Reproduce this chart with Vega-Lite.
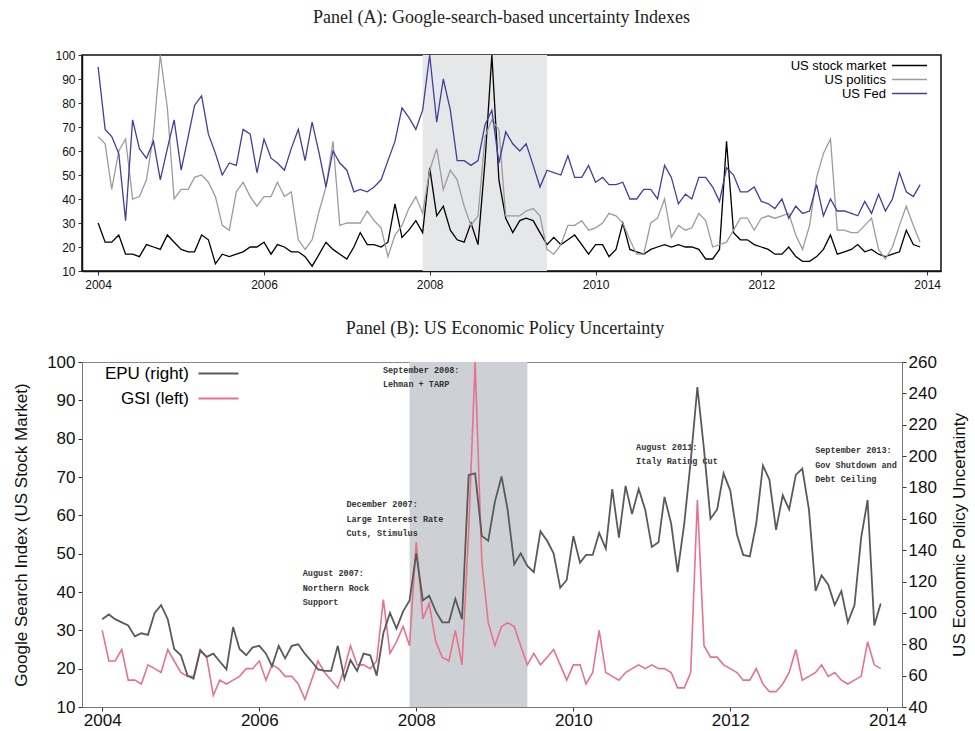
{
  "$schema": "https://vega.github.io/schema/vega-lite/v6.json",
  "background": "white",
  "padding": {"left": 12, "top": 8, "right": 3, "bottom": 3},
  "spacing": 28,
  "resolve": {"scale": {"color": "independent"}, "legend": {"color": "independent"}},
  "config": {
    "font": "Liberation Sans",
    "axis": {"grid": false, "labelColor": "#111", "titleColor": "#111", "domainColor": "#333", "tickColor": "#333", "titleFontWeight": "normal", "labelOverlap": false},
    "title": {"font": "Liberation Serif", "fontWeight": "normal", "color": "#222"}
  },
  "datasets": {
    "d": [
      {"date":"2004-01-01","stock":30,"politics":66,"fed":95,"epu":96},
      {"date":"2004-02-01","stock":22,"politics":63,"fed":69,"epu":99},
      {"date":"2004-03-01","stock":22,"politics":44,"fed":66,"epu":96},
      {"date":"2004-04-01","stock":25,"politics":60,"fed":59,"epu":94},
      {"date":"2004-05-01","stock":17,"politics":65,"fed":31,"epu":92},
      {"date":"2004-06-01","stock":17,"politics":40,"fed":73,"epu":85},
      {"date":"2004-07-01","stock":16,"politics":41,"fed":61,"epu":87},
      {"date":"2004-08-01","stock":21,"politics":48,"fed":57,"epu":86},
      {"date":"2004-09-01","stock":20,"politics":67,"fed":64,"epu":100},
      {"date":"2004-10-01","stock":19,"politics":100,"fed":48,"epu":105},
      {"date":"2004-11-01","stock":25,"politics":78,"fed":61,"epu":96},
      {"date":"2004-12-01","stock":22,"politics":40,"fed":73,"epu":77},
      {"date":"2005-01-01","stock":19,"politics":44,"fed":52,"epu":73},
      {"date":"2005-02-01","stock":18,"politics":44,"fed":66,"epu":60},
      {"date":"2005-03-01","stock":18,"politics":49,"fed":79,"epu":58},
      {"date":"2005-04-01","stock":25,"politics":50,"fed":83,"epu":76},
      {"date":"2005-05-01","stock":23,"politics":47,"fed":67,"epu":72},
      {"date":"2005-06-01","stock":13,"politics":41,"fed":59,"epu":74},
      {"date":"2005-07-01","stock":17,"politics":29,"fed":50,"epu":69},
      {"date":"2005-08-01","stock":16,"politics":27,"fed":55,"epu":64},
      {"date":"2005-09-01","stock":17,"politics":43,"fed":54,"epu":91},
      {"date":"2005-10-01","stock":18,"politics":47,"fed":69,"epu":77},
      {"date":"2005-11-01","stock":20,"politics":41,"fed":67,"epu":73},
      {"date":"2005-12-01","stock":20,"politics":37,"fed":51,"epu":78},
      {"date":"2006-01-01","stock":22,"politics":41,"fed":65,"epu":79},
      {"date":"2006-02-01","stock":17,"politics":41,"fed":57,"epu":74},
      {"date":"2006-03-01","stock":21,"politics":47,"fed":55,"epu":66},
      {"date":"2006-04-01","stock":20,"politics":41,"fed":52,"epu":79},
      {"date":"2006-05-01","stock":18,"politics":43,"fed":61,"epu":71},
      {"date":"2006-06-01","stock":18,"politics":23,"fed":69,"epu":79},
      {"date":"2006-07-01","stock":16,"politics":19,"fed":56,"epu":80},
      {"date":"2006-08-01","stock":12,"politics":23,"fed":72,"epu":74},
      {"date":"2006-09-01","stock":17,"politics":35,"fed":59,"epu":69},
      {"date":"2006-10-01","stock":22,"politics":45,"fed":45,"epu":64},
      {"date":"2006-11-01","stock":19,"politics":64,"fed":60,"epu":63},
      {"date":"2006-12-01","stock":17,"politics":29,"fed":55,"epu":63},
      {"date":"2007-01-01","stock":15,"politics":30,"fed":52,"epu":79},
      {"date":"2007-02-01","stock":20,"politics":30,"fed":43,"epu":58},
      {"date":"2007-03-01","stock":26,"politics":30,"fed":44,"epu":70},
      {"date":"2007-04-01","stock":21,"politics":35,"fed":43,"epu":63},
      {"date":"2007-05-01","stock":21,"politics":31,"fed":45,"epu":74},
      {"date":"2007-06-01","stock":20,"politics":28,"fed":48,"epu":73},
      {"date":"2007-07-01","stock":22,"politics":16,"fed":56,"epu":60},
      {"date":"2007-08-01","stock":38,"politics":25,"fed":64,"epu":87},
      {"date":"2007-09-01","stock":24,"politics":29,"fed":78,"epu":100},
      {"date":"2007-10-01","stock":27,"politics":36,"fed":74,"epu":90},
      {"date":"2007-11-01","stock":31,"politics":41,"fed":69,"epu":101},
      {"date":"2007-12-01","stock":26,"politics":34,"fed":77,"epu":108},
      {"date":"2008-01-01","stock":53,"politics":52,"fed":100,"epu":138},
      {"date":"2008-02-01","stock":33,"politics":61,"fed":72,"epu":108},
      {"date":"2008-03-01","stock":37,"politics":44,"fed":90,"epu":111},
      {"date":"2008-04-01","stock":27,"politics":52,"fed":77,"epu":101},
      {"date":"2008-05-01","stock":23,"politics":48,"fed":56,"epu":94},
      {"date":"2008-06-01","stock":22,"politics":37,"fed":56,"epu":94},
      {"date":"2008-07-01","stock":30,"politics":29,"fed":54,"epu":109},
      {"date":"2008-08-01","stock":21,"politics":33,"fed":56,"epu":96},
      {"date":"2008-09-01","stock":56,"politics":66,"fed":71,"epu":188},
      {"date":"2008-10-01","stock":100,"politics":73,"fed":77,"epu":189},
      {"date":"2008-11-01","stock":48,"politics":69,"fed":55,"epu":149},
      {"date":"2008-12-01","stock":32,"politics":33,"fed":68,"epu":146},
      {"date":"2009-01-01","stock":26,"politics":33,"fed":63,"epu":171},
      {"date":"2009-02-01","stock":31,"politics":33,"fed":60,"epu":187},
      {"date":"2009-03-01","stock":32,"politics":35,"fed":63,"epu":166},
      {"date":"2009-04-01","stock":31,"politics":36,"fed":54,"epu":131},
      {"date":"2009-05-01","stock":26,"politics":33,"fed":45,"epu":138},
      {"date":"2009-06-01","stock":21,"politics":19,"fed":52,"epu":130},
      {"date":"2009-07-01","stock":24,"politics":17,"fed":51,"epu":126},
      {"date":"2009-08-01","stock":21,"politics":21,"fed":50,"epu":152},
      {"date":"2009-09-01","stock":23,"politics":29,"fed":58,"epu":146},
      {"date":"2009-10-01","stock":25,"politics":29,"fed":49,"epu":138},
      {"date":"2009-11-01","stock":21,"politics":31,"fed":49,"epu":116},
      {"date":"2009-12-01","stock":17,"politics":27,"fed":54,"epu":121},
      {"date":"2010-01-01","stock":21,"politics":28,"fed":47,"epu":149},
      {"date":"2010-02-01","stock":21,"politics":30,"fed":49,"epu":132},
      {"date":"2010-03-01","stock":16,"politics":34,"fed":46,"epu":137},
      {"date":"2010-04-01","stock":19,"politics":33,"fed":46,"epu":137},
      {"date":"2010-05-01","stock":30,"politics":30,"fed":47,"epu":151},
      {"date":"2010-06-01","stock":19,"politics":23,"fed":40,"epu":141},
      {"date":"2010-07-01","stock":18,"politics":17,"fed":40,"epu":179},
      {"date":"2010-08-01","stock":17,"politics":17,"fed":44,"epu":148},
      {"date":"2010-09-01","stock":19,"politics":30,"fed":44,"epu":181},
      {"date":"2010-10-01","stock":20,"politics":32,"fed":40,"epu":163},
      {"date":"2010-11-01","stock":21,"politics":40,"fed":54,"epu":179},
      {"date":"2010-12-01","stock":20,"politics":24,"fed":49,"epu":166},
      {"date":"2011-01-01","stock":21,"politics":29,"fed":38,"epu":142},
      {"date":"2011-02-01","stock":20,"politics":27,"fed":42,"epu":145},
      {"date":"2011-03-01","stock":20,"politics":28,"fed":40,"epu":174},
      {"date":"2011-04-01","stock":19,"politics":34,"fed":49,"epu":157},
      {"date":"2011-05-01","stock":15,"politics":31,"fed":49,"epu":126},
      {"date":"2011-06-01","stock":15,"politics":20,"fed":45,"epu":157},
      {"date":"2011-07-01","stock":19,"politics":21,"fed":39,"epu":197},
      {"date":"2011-08-01","stock":64,"politics":22,"fed":53,"epu":244},
      {"date":"2011-09-01","stock":26,"politics":27,"fed":50,"epu":204},
      {"date":"2011-10-01","stock":23,"politics":32,"fed":43,"epu":160},
      {"date":"2011-11-01","stock":23,"politics":32,"fed":43,"epu":166},
      {"date":"2011-12-01","stock":21,"politics":27,"fed":45,"epu":189},
      {"date":"2012-01-01","stock":20,"politics":32,"fed":39,"epu":178},
      {"date":"2012-02-01","stock":19,"politics":33,"fed":38,"epu":150},
      {"date":"2012-03-01","stock":17,"politics":32,"fed":36,"epu":137},
      {"date":"2012-04-01","stock":17,"politics":33,"fed":40,"epu":136},
      {"date":"2012-05-01","stock":20,"politics":34,"fed":32,"epu":157},
      {"date":"2012-06-01","stock":16,"politics":25,"fed":37,"epu":194},
      {"date":"2012-07-01","stock":14,"politics":19,"fed":34,"epu":185},
      {"date":"2012-08-01","stock":14,"politics":29,"fed":35,"epu":153},
      {"date":"2012-09-01","stock":16,"politics":49,"fed":46,"epu":175},
      {"date":"2012-10-01","stock":19,"politics":59,"fed":33,"epu":166},
      {"date":"2012-11-01","stock":25,"politics":65,"fed":40,"epu":188},
      {"date":"2012-12-01","stock":17,"politics":27,"fed":35,"epu":192},
      {"date":"2013-01-01","stock":18,"politics":27,"fed":35,"epu":166},
      {"date":"2013-02-01","stock":19,"politics":26,"fed":34,"epu":114},
      {"date":"2013-03-01","stock":21,"politics":26,"fed":33,"epu":124},
      {"date":"2013-04-01","stock":18,"politics":29,"fed":39,"epu":118},
      {"date":"2013-05-01","stock":19,"politics":32,"fed":34,"epu":105},
      {"date":"2013-06-01","stock":17,"politics":19,"fed":42,"epu":114},
      {"date":"2013-07-01","stock":16,"politics":15,"fed":35,"epu":94},
      {"date":"2013-08-01","stock":17,"politics":20,"fed":40,"epu":105},
      {"date":"2013-09-01","stock":18,"politics":29,"fed":51,"epu":148},
      {"date":"2013-10-01","stock":27,"politics":37,"fed":43,"epu":172},
      {"date":"2013-11-01","stock":21,"politics":29,"fed":41,"epu":92},
      {"date":"2013-12-01","stock":20,"politics":22,"fed":46,"epu":106}
    ],
    "rec": [{"start": "2007-12-01", "end": "2009-06-01"}],
    "notes": [
      {"date": "2006-07-22", "y": 46, "label": "August 2007:\nNorthern Rock\nSupport"},
      {"date": "2007-02-10", "y": 64, "label": "December 2007:\nLarge Interest Rate\nCuts, Stimulus"},
      {"date": "2007-07-30", "y": 99, "label": "September 2008:\nLehman + TARP"},
      {"date": "2010-10-20", "y": 79, "label": "August 2011:\nItaly Rating Cut"},
      {"date": "2013-01-30", "y": 78, "label": "September 2013:\nGov Shutdown and\nDebt Ceiling"}
    ]
  },
  "vconcat": [
    {
      "width": 859,
      "height": 216,
      "title": {"text": "Panel (A): Google-search-based uncertainty Indexes", "fontSize": 18, "offset": 22, "dx": -10},
      "view": {"stroke": "#111", "strokeWidth": 1.5},
      "layer": [
        {
          "data": {"name": "rec"},
          "mark": {"type": "rect", "color": "#e6e7e9"},
          "encoding": {
            "x": {"field": "start", "type": "temporal", "scale": {"type": "utc", "domain": [{"year": 2003, "month": 10, "date": 22, "utc": true}, {"year": 2014, "month": 3, "date": 3, "utc": true}]}},
            "x2": {"field": "end"}
          }
        },
        {
          "data": {"name": "d"},
          "transform": [{"fold": ["stock", "politics", "fed"], "as": ["series", "value"]}],
          "mark": {"type": "line", "strokeWidth": 1.3},
          "encoding": {
            "x": {
              "field": "date", "type": "temporal",
              "scale": {"type": "utc", "domain": [{"year": 2003, "month": 10, "date": 22, "utc": true}, {"year": 2014, "month": 3, "date": 3, "utc": true}]},
              "axis": {"title": null, "format": "%Y", "values": [{"year": 2004, "utc": true}, {"year": 2006, "utc": true}, {"year": 2008, "utc": true}, {"year": 2010, "utc": true}, {"year": 2012, "utc": true}, {"year": 2014, "utc": true}], "labelFontSize": 12, "tickSize": 4, "labelPadding": 4, "domainColor": "#111", "domainWidth": 1.5}
            },
            "y": {
              "field": "value", "type": "quantitative",
              "scale": {"domain": [10, 100], "nice": false},
              "axis": {"title": null, "values": [10, 20, 30, 40, 50, 60, 70, 80, 90, 100], "labelFontSize": 12, "tickSize": 4, "labelPadding": 3, "domainColor": "#111", "domainWidth": 1.5}
            },
            "color": {
              "field": "series", "type": "nominal",
              "scale": {"domain": ["stock", "politics", "fed"], "range": ["#000000", "#9c9c9c", "#463c9b"]},
              "legend": {
                "title": null, "orient": "none", "legendX": 807, "legendY": 4,
                "symbolType": "M-1,0H9", "symbolSize": 49, "symbolStrokeWidth": 1.3,
                "labelFontSize": 13, "labelAlign": "right", "labelOffset": -16,
                "rowPadding": 0, "padding": 0,
                "labelExpr": "datum.label == 'stock' ? 'US stock market' : datum.label == 'politics' ? 'US politics' : 'US Fed'"
              }
            }
          }
        }
      ]
    },
    {
      "width": 820,
      "height": 345,
      "title": {"text": "Panel (B): US Economic Policy Uncertainty", "fontSize": 18, "offset": 15, "dx": 13},
      "view": {"stroke": "#888"},
      "layer": [
        {
          "layer": [
            {
              "data": {"name": "rec"},
              "mark": {"type": "rect", "color": "#cdd1d6"},
              "encoding": {
                "x": {"field": "start", "type": "temporal", "scale": {"type": "utc", "domain": [{"year": 2003, "month": 9, "date": 29, "utc": true}, {"year": 2014, "month": 3, "date": 10, "utc": true}]}},
                "x2": {"field": "end"}
              }
            },
            {
              "data": {"name": "d"},
              "mark": {"type": "line", "strokeWidth": 1.6},
              "encoding": {
                "x": {
                  "field": "date", "type": "temporal",
                  "scale": {"type": "utc", "domain": [{"year": 2003, "month": 9, "date": 29, "utc": true}, {"year": 2014, "month": 3, "date": 10, "utc": true}]},
                  "axis": {"title": null, "format": "%Y", "values": [{"year": 2004, "utc": true}, {"year": 2006, "utc": true}, {"year": 2008, "utc": true}, {"year": 2010, "utc": true}, {"year": 2012, "utc": true}, {"year": 2014, "utc": true}], "labelFontSize": 17, "tickSize": 4, "labelPadding": 1, "domainColor": "#777"}
                },
                "y": {
                  "field": "stock", "type": "quantitative",
                  "scale": {"domain": [10, 100], "nice": false},
                  "axis": {"title": "Google Search Index (US Stock Market)", "titleFontSize": 17, "values": [10, 20, 30, 40, 50, 60, 70, 80, 90, 100], "labelOverlap": false, "labelFontSize": 17, "tickSize": 4, "labelPadding": 3, "titlePadding": 16, "domainColor": "#777"}
                },
                "color": {
                  "datum": "GSI (left)", "type": "nominal",
                  "scale": {"domain": ["EPU (right)", "GSI (left)"], "range": ["#5a5a5a", "#e8728b"]},
                  "legend": {
                    "title": null, "orient": "none", "legendX": 112, "legendY": 3,
                    "symbolType": "M-1,0H9", "symbolSize": 64, "symbolStrokeWidth": 1.8,
                    "labelFontSize": 17, "labelAlign": "right", "labelOffset": -22,
                    "rowPadding": 7, "padding": 0
                  }
                }
              }
            },
            {
              "data": {"name": "notes"},
              "mark": {"type": "text", "font": "Liberation Mono", "fontSize": 8.5, "fontWeight": "bold", "align": "left", "baseline": "top", "lineBreak": "\n", "lineHeight": 14.5, "color": "#333"},
              "encoding": {
                "x": {"field": "date", "type": "temporal"},
                "y": {"field": "y", "type": "quantitative", "axis": {"title": "Google Search Index (US Stock Market)", "titleFontSize": 17, "values": [10, 20, 30, 40, 50, 60, 70, 80, 90, 100], "labelOverlap": false, "labelFontSize": 17, "tickSize": 4, "labelPadding": 3, "titlePadding": 16, "domainColor": "#777"}},
                "text": {"field": "label", "type": "nominal"}
              }
            }
          ]
        },
        {
          "data": {"name": "d"},
          "mark": {"type": "line", "strokeWidth": 1.8},
          "encoding": {
            "x": {"field": "date", "type": "temporal"},
            "y": {
              "field": "epu", "type": "quantitative",
              "scale": {"domain": [40, 260], "nice": false},
              "axis": {"orient": "right", "title": "US Economic Policy Uncertainty", "titleAngle": 270, "titleBaseline": "bottom", "titleFontSize": 17, "values": [40, 60, 80, 100, 120, 140, 160, 180, 200, 220, 240, 260], "labelFontSize": 17, "tickSize": 4, "labelPadding": 2, "titlePadding": 32, "domainColor": "#777"}
            },
            "color": {"datum": "EPU (right)", "type": "nominal"}
          }
        }
      ],
      "resolve": {"scale": {"y": "independent"}}
    }
  ]
}
